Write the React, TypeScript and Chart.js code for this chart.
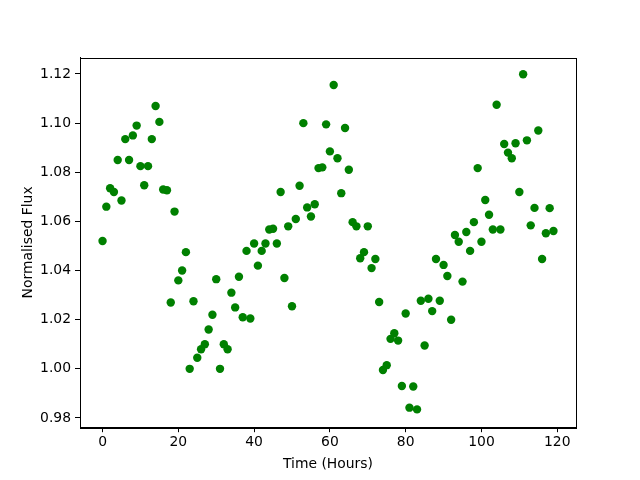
import React, { useEffect, useRef } from "react";
import { Chart, registerables } from "chart.js";

Chart.register(...registerables);

const hours: number[] = Array.from({ length: 120 }, (_, i) => i);

const flux: number[] = [
  1.052, 1.066, 1.0735, 1.072, 1.085, 1.0685, 1.0935, 1.085, 1.095, 1.099,
  1.0825, 1.0747, 1.0825, 1.0935, 1.107, 1.1005, 1.073, 1.0727, 1.027, 1.064,
  1.036, 1.040, 1.0475, 1.000, 1.0275, 1.0045, 1.008, 1.010, 1.016, 1.022,
  1.0365, 1.000, 1.010, 1.008, 1.031, 1.025, 1.0375, 1.021, 1.048, 1.0205,
  1.051, 1.042, 1.048, 1.051, 1.0567, 1.057, 1.051, 1.072, 1.037, 1.058,
  1.0255, 1.061, 1.0745, 1.100, 1.0657, 1.062, 1.067, 1.0817, 1.082, 1.0995,
  1.0885, 1.1155, 1.0857, 1.0715, 1.098, 1.081, 1.0597, 1.058, 1.045, 1.0475,
  1.058, 1.041, 1.0447, 1.0272, 0.9995, 1.0015, 1.0122, 1.0145, 1.0115, 0.993,
  1.0225, 0.9842, 0.9928, 0.9835, 1.0277, 1.0095, 1.0285, 1.0235, 1.0447, 1.0277,
  1.0423, 1.0378, 1.020, 1.0545, 1.0517, 1.0355, 1.0557, 1.048, 1.0597, 1.0817,
  1.0517, 1.0687, 1.0627, 1.0567, 1.1075, 1.0567, 1.0915, 1.088, 1.0857, 1.0918,
  1.072, 1.1199, 1.093, 1.0584, 1.0655, 1.097, 1.0447, 1.0552, 1.0654, 1.0561,
];

const xTicks: number[] = [0, 20, 40, 60, 80, 100, 120];
const yTicks: number[] = [0.98, 1.0, 1.02, 1.04, 1.06, 1.08, 1.1, 1.12];

const xLabel = "Time (Hours)";
const yLabel = "Normalised Flux";

const FONT = "'DejaVu Sans', sans-serif";

const framePlugin = {
  id: "frame",
  afterDatasetsDraw(chart: any) {
    const { ctx, chartArea } = chart;
    ctx.save();
    ctx.strokeStyle = "#000";
    ctx.lineWidth = 1;
    ctx.strokeRect(
      Math.round(chartArea.left) + 0.5,
      Math.round(chartArea.top) + 0.5,
      Math.round(chartArea.right - chartArea.left),
      Math.round(chartArea.bottom - chartArea.top)
    );
    ctx.restore();
  },
};

export default function App() {
  const ref = useRef<HTMLCanvasElement | null>(null);

  useEffect(() => {
    document.body.style.margin = "0";
    const canvas = ref.current;
    if (!canvas) return;
    const points = hours.map((h, i) => ({ x: h, y: flux[i] }));
    const tickFont = { family: FONT, size: 13.9 };
    const chart = new Chart(canvas, {
      type: "scatter",
      data: {
        datasets: [
          {
            data: points,
            backgroundColor: "#008000",
            borderColor: "#008000",
            borderWidth: 0,
            pointRadius: 4.2,
            pointHoverRadius: 4.2,
          },
        ],
      },
      options: {
        responsive: false,
        animation: false,
        events: [],
        layout: { padding: { left: 0, right: 64, top: 57.6, bottom: 0 } },
        plugins: {
          legend: { display: false },
          tooltip: { enabled: false },
        },
        scales: {
          x: {
            type: "linear",
            min: -5.95,
            max: 124.95,
            afterBuildTicks: (scale: any) => {
              scale.ticks = xTicks.map((v) => ({ value: v }));
            },
            afterFit: (scale: any) => {
              scale.height = 52.8;
            },
            grid: {
              display: true,
              drawOnChartArea: false,
              drawTicks: true,
              tickLength: 5,
              tickColor: "#000",
              tickWidth: 1,
            },
            border: { display: true, color: "#000", width: 1 },
            ticks: {
              color: "#000",
              font: tickFont,
              padding: 2,
              maxRotation: 0,
              callback: (v: any) => String(v),
            },
            title: {
              display: true,
              text: xLabel,
              color: "#000",
              font: tickFont,
              padding: { top: 2, bottom: 7 },
            },
          },
          y: {
            type: "linear",
            min: 0.97625,
            max: 1.12667,
            afterBuildTicks: (scale: any) => {
              scale.ticks = yTicks.map((v) => ({ value: v }));
            },
            afterFit: (scale: any) => {
              scale.width = 80;
            },
            grid: {
              display: true,
              drawOnChartArea: false,
              drawTicks: true,
              tickLength: 5,
              tickColor: "#000",
              tickWidth: 1,
            },
            border: { display: true, color: "#000", width: 1 },
            ticks: {
              color: "#000",
              font: tickFont,
              padding: 4,
              callback: (v: any) => Number(v).toFixed(2),
            },
            title: {
              display: true,
              text: yLabel,
              color: "#000",
              font: tickFont,
              padding: { top: 20, bottom: 0 },
            },
          },
        },
      },
      plugins: [framePlugin],
    });
    return () => chart.destroy();
  }, []);

  return <canvas ref={ref} width={640} height={480} style={{ display: "block" }} />;
}
